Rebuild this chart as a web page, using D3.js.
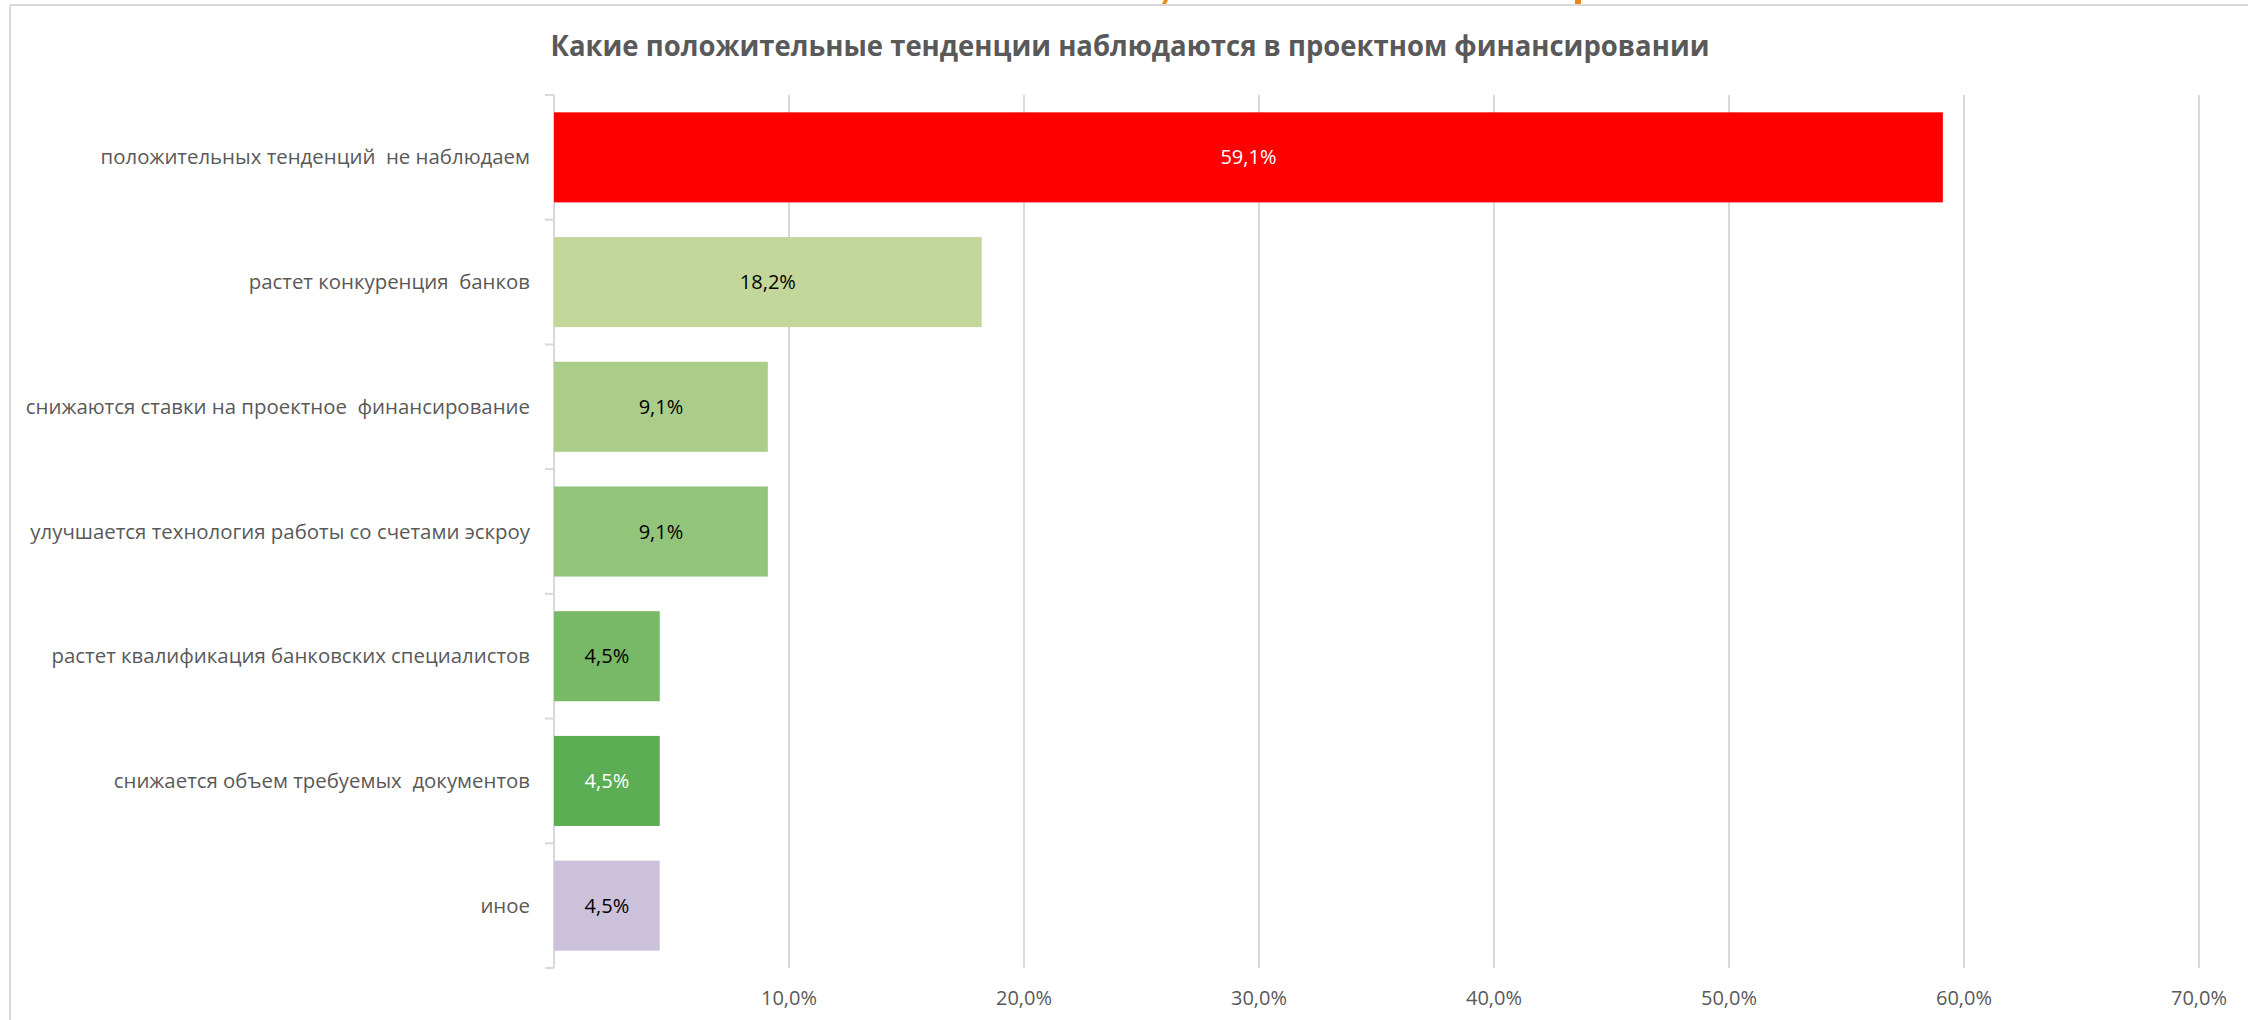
<!DOCTYPE html>
<html>
<head>
<meta charset="utf-8">
<script src="https://cdn.jsdelivr.net/npm/d3@7"></script>
<style>
  html, body { margin: 0; padding: 0; background: #fff; }
  svg text { font-family: "Liberation Sans Narrow", "Open Sans", sans-serif; }
</style>
</head>
<body>
<div id="chart"></div>
<script>
// chart values
const chartTitle = "Какие положительные тенденции наблюдаются в проектном финансировании";
const categories = [
  "положительных тенденций  не наблюдаем",
  "растет конкуренция  банков",
  "снижаются ставки на проектное  финансирование",
  "улучшается технология работы со счетами эскроу",
  "растет квалификация банковских специалистов",
  "снижается объем требуемых  документов",
  "иное"
];
const values = [0.591, 0.182, 0.091, 0.091, 0.045, 0.045, 0.045];
const barColors = ["#ff0000", "#c4d79b", "#abcd8a", "#92c47a", "#77b966", "#5cae54", "#ccc1da"];
const labelColors = ["#ffffff", "#000000", "#000000", "#000000", "#000000", "#ffffff", "#000000"];
const xTicks = [0.1, 0.2, 0.3, 0.4, 0.5, 0.6, 0.7];

const width = 2248, height = 1020;
const plot = { left: 554, right: 2199, top: 95, bottom: 968 };
const grey = "#595959", lineGrey = "#d9d9d9";

const svg = d3.select("#chart").append("svg")
  .attr("width", width)
  .attr("height", height);

// frame of the chart object (top and left edges are visible)
svg.append("line")
  .attr("x1", 10).attr("x2", width).attr("y1", 5).attr("y2", 5)
  .attr("stroke", lineGrey).attr("stroke-width", 2);
svg.append("line")
  .attr("x1", 10).attr("x2", 10).attr("y1", 5).attr("y2", height)
  .attr("stroke", lineGrey).attr("stroke-width", 2);

// fragments of the slide heading above, cut off by the crop
svg.append("path")
  .attr("d", "M1162,4 L1164,0 L1168,0 L1166,4 Z")
  .attr("fill", "#e8891c");
svg.append("rect")
  .attr("x", 1575).attr("y", 0).attr("width", 6).attr("height", 4)
  .attr("fill", "#e8891c");

let x = d3.scaleLinear()
  .domain([0, 0.7])
  .range([plot.left, plot.right]);

let y = d3.scaleBand()
  .domain(categories)
  .range([plot.top, plot.bottom])
  .paddingInner(0.278)
  .paddingOuter(0.139);

// vertical gridlines
svg.append("g")
  .selectAll("line")
  .data(xTicks)
  .join("line")
  .attr("x1", d => x(d)).attr("x2", d => x(d))
  .attr("y1", plot.top).attr("y2", plot.bottom)
  .attr("stroke", lineGrey).attr("stroke-width", 2);

// x axis tick labels
const fmt = d => d3.format(".1f")(d * 100).replace(".", ",") + "%";
svg.append("g")
  .selectAll("text")
  .data(xTicks)
  .join("text")
  .attr("x", d => x(d))
  .attr("y", 1005)
  .attr("text-anchor", "middle")
  .attr("fill", grey)
  .style("font-size", "20px")
  .text(fmt);

// category axis with tick marks between bands
const step = y.step();
const bounds = d3.range(categories.length + 1).map(i => plot.top + i * step);
svg.append("line")
  .attr("x1", plot.left).attr("x2", plot.left)
  .attr("y1", plot.top).attr("y2", plot.bottom)
  .attr("stroke", lineGrey).attr("stroke-width", 2);
svg.append("g")
  .selectAll("line")
  .data(bounds)
  .join("line")
  .attr("x1", plot.left - 9).attr("x2", plot.left)
  .attr("y1", d => d).attr("y2", d => d)
  .attr("stroke", lineGrey).attr("stroke-width", 2);

svg.append("g")
  .selectAll("text")
  .data(categories)
  .join("text")
  .attr("x", plot.left - 24)
  .attr("y", d => y(d) + y.bandwidth() / 2)
  .attr("dy", "0.35em")
  .attr("text-anchor", "end")
  .attr("fill", grey)
  .style("font-size", "20.4px")
  .style("white-space", "pre")
  .text(d => d);

// bars
svg.append("g")
  .selectAll("rect")
  .data(values)
  .join("rect")
  .attr("x", x(0))
  .attr("y", (d, i) => y(categories[i]))
  .attr("width", d => x(d) - x(0))
  .attr("height", y.bandwidth())
  .attr("fill", (d, i) => barColors[i]);

// data labels
svg.append("g")
  .selectAll("text")
  .data(values)
  .join("text")
  .attr("x", d => (x(0) + x(d)) / 2)
  .attr("y", (d, i) => y(categories[i]) + y.bandwidth() / 2)
  .attr("dy", "0.35em")
  .attr("text-anchor", "middle")
  .attr("fill", (d, i) => labelColors[i])
  .style("font-size", "20px")
  .text(fmt);

// title
svg.append("text")
  .attr("x", 1130)
  .attr("y", 56)
  .attr("text-anchor", "middle")
  .attr("fill", grey)
  .style("font-size", "29px")
  .style("font-weight", "bold")
  .attr("textLength", 1159)
  .attr("lengthAdjust", "spacingAndGlyphs")
  .text(chartTitle);
</script>
</body>
</html>
